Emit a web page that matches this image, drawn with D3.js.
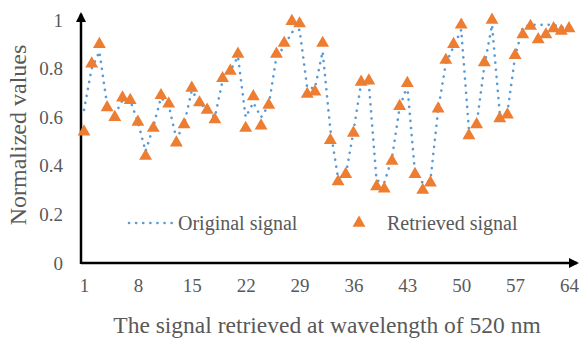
<!DOCTYPE html>
<html>
<head>
<meta charset="utf-8">
<script src="https://cdn.jsdelivr.net/npm/d3@7"></script>
<style>
  body { margin: 0; background: #fff; }
  svg text { font-family: "Liberation Serif", "Times New Roman", serif; fill: #595959; }
</style>
</head>
<body>
<figure id="chart" style="margin:0"></figure>
<script>
// sample index 1..64
const samples = d3.range(1, 65);

// retrieved signal (triangles)
const retrieved = [
  0.54, 0.82, 0.90, 0.64, 0.60, 0.68, 0.67, 0.58, 0.44, 0.555,
  0.69, 0.655, 0.495, 0.57, 0.72, 0.66, 0.63, 0.59, 0.76, 0.79,
  0.86, 0.555, 0.685, 0.565, 0.65, 0.86, 0.905, 0.995, 0.985, 0.695,
  0.705, 0.905, 0.505, 0.335, 0.365, 0.535, 0.745, 0.75, 0.315, 0.305,
  0.42, 0.645, 0.74, 0.365, 0.30, 0.33, 0.635, 0.835, 0.90, 0.98,
  0.525, 0.57, 0.825, 1.00, 0.595, 0.61, 0.855, 0.94, 0.975, 0.92,
  0.94, 0.965, 0.955, 0.965
];

// original signal (dotted line)
const original = [
  0.63, 0.80, 0.87, 0.65, 0.61, 0.67, 0.67, 0.58, 0.46, 0.56,
  0.68, 0.65, 0.51, 0.57, 0.71, 0.66, 0.63, 0.60, 0.75, 0.79,
  0.85, 0.60, 0.66, 0.60, 0.65, 0.85, 0.89, 0.95, 0.96, 0.72,
  0.72, 0.87, 0.55, 0.35, 0.36, 0.54, 0.74, 0.74, 0.34, 0.33,
  0.43, 0.64, 0.73, 0.37, 0.33, 0.34, 0.63, 0.82, 0.89, 0.96,
  0.55, 0.57, 0.81, 0.98, 0.62, 0.62, 0.85, 0.97, 0.98, 0.98,
  0.98, 0.98, 0.97, 0.97
];

const xTicks = [1, 8, 15, 22, 29, 36, 43, 50, 57, 64];
const yTicks = [0, 0.2, 0.4, 0.6, 0.8, 1];
const legendNames = ["Original signal", "Retrieved signal"];

const width = 583, height = 345;
const blue = "#5b9bd5", orange = "#ed7d31";

const svg = d3.select("figure#chart")
  .append("svg")
  .attr("width", width)
  .attr("height", height);

const x = d3.scaleLinear().domain([1, 64]).range([84, 569]);
const y = d3.scaleLinear().domain([0, 1]).range([263, 20]);

// arrow head
svg.append("defs").append("marker")
  .attr("id", "arrow")
  .attr("viewBox", "0 0 10 10")
  .attr("refX", 8).attr("refY", 5)
  .attr("markerWidth", 4).attr("markerHeight", 4)
  .attr("orient", "auto")
  .append("path")
  .attr("d", "M0,0 L10,5 L0,10 Z")
  .attr("fill", "#000");

// X-axis labels
const xAxis = svg.append("g")
  .attr("transform", "translate(0,263)")
  .call(d3.axisBottom(x).tickValues(xTicks).tickSize(0).tickPadding(16).tickFormat(d3.format("d")));
xAxis.select(".domain").remove();
xAxis.selectAll("text").style("font-size", "19px").attr("fill", "#595959");

// Y-axis labels
const yAxis = svg.append("g")
  .attr("transform", "translate(81,0)")
  .call(d3.axisLeft(y).tickValues(yTicks).tickSize(0).tickPadding(18).tickFormat(d => d === 0 || d === 1 ? d : d.toFixed(1)));
yAxis.select(".domain").remove();
yAxis.selectAll("text").style("font-size", "19px").attr("fill", "#595959");

// axis lines with arrows
svg.append("line")
  .attr("x1", 81).attr("y1", 263).attr("x2", 577).attr("y2", 263)
  .attr("stroke", "#000").attr("stroke-width", 2.5)
  .attr("marker-end", "url(#arrow)");
svg.append("line")
  .attr("x1", 81).attr("y1", 264).attr("x2", 81).attr("y2", 14)
  .attr("stroke", "#000").attr("stroke-width", 2.5)
  .attr("marker-end", "url(#arrow)");

// original signal: dotted line
const line = d3.line()
  .x((d, i) => x(samples[i]))
  .y(d => y(d));

svg.append("path")
  .datum(original)
  .attr("d", line)
  .attr("fill", "none")
  .attr("stroke", blue)
  .attr("stroke-width", 2.6)
  .attr("stroke-linecap", "round")
  .attr("stroke-dasharray", "0.1 7");

// retrieved signal: triangles
const tri = d3.symbol().type(d3.symbolTriangle).size(72);
svg.selectAll(".tri")
  .data(retrieved)
  .enter()
  .append("path")
  .attr("class", "tri")
  .attr("d", tri)
  .attr("transform", (d, i) => "translate(" + x(samples[i]) + "," + y(d) + ")")
  .attr("fill", orange);

// legend
svg.append("line")
  .attr("x1", 129).attr("y1", 223).attr("x2", 172).attr("y2", 223)
  .attr("stroke", blue).attr("stroke-width", 2.6)
  .attr("stroke-linecap", "round")
  .attr("stroke-dasharray", "0.1 7");
svg.append("text")
  .attr("x", 178).attr("y", 230)
  .style("font-size", "20px")
  .text(legendNames[0]);
svg.append("path")
  .attr("d", tri)
  .attr("transform", "translate(359,223)")
  .attr("fill", orange);
svg.append("text")
  .attr("x", 387).attr("y", 230)
  .style("font-size", "20px")
  .text(legendNames[1]);

// axis titles
svg.append("text")
  .attr("x", 327).attr("y", 333)
  .attr("text-anchor", "middle")
  .style("font-size", "23.5px")
  .text("The signal retrieved at wavelength of 520 nm");

svg.append("text")
  .attr("transform", "translate(26,135)rotate(-90)")
  .attr("text-anchor", "middle")
  .style("font-size", "24px")
  .text("Normalized values");
</script>
</body>
</html>
